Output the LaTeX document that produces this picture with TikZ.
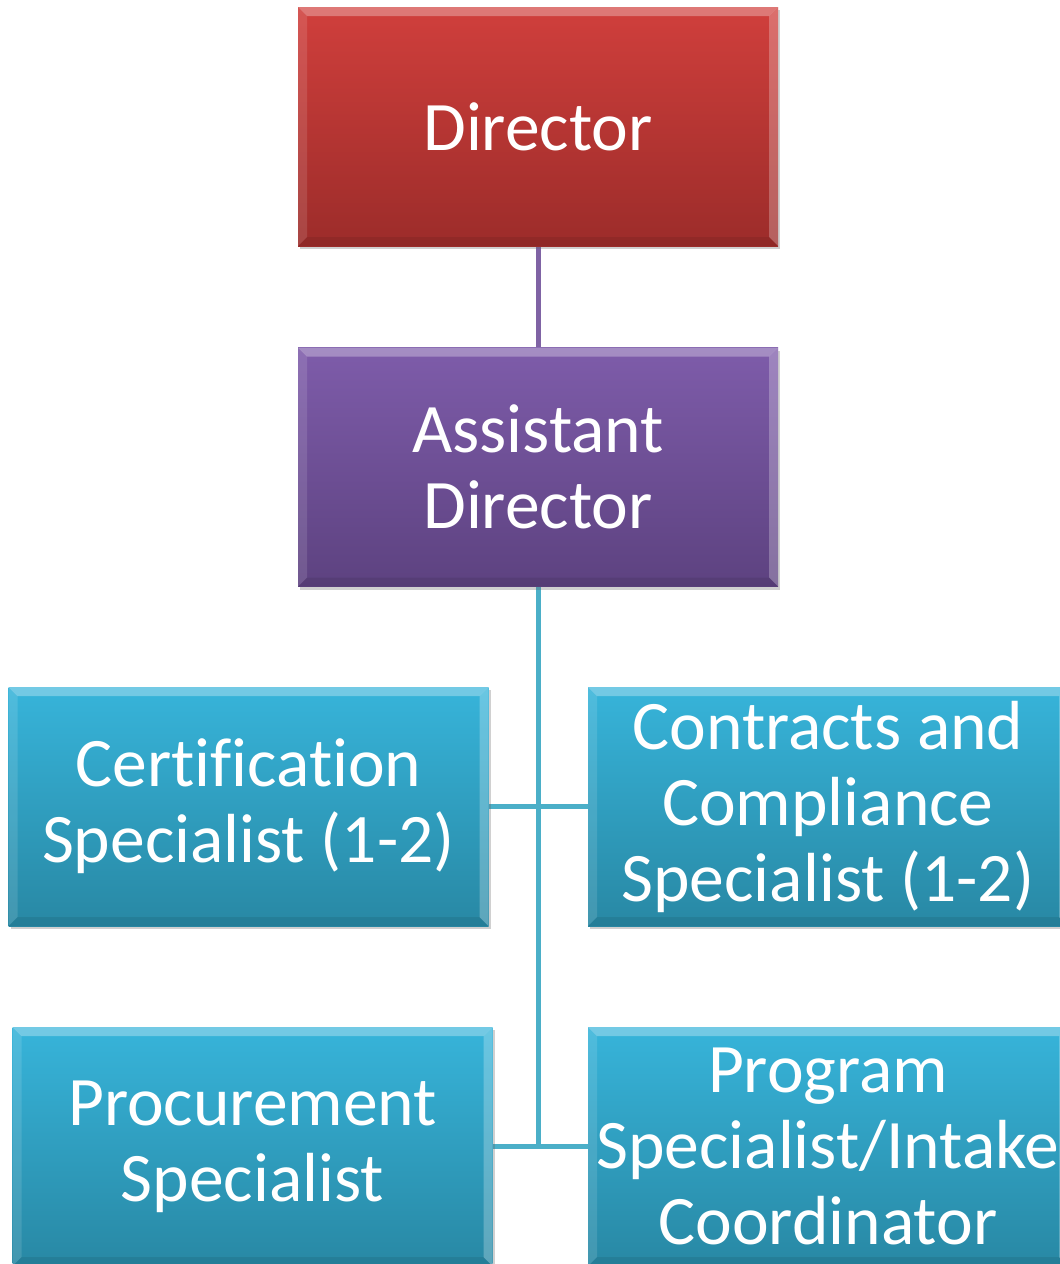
\documentclass[tikz,border=0pt]{standalone}
\usepackage{fontspec}
\setmainfont{Carlito}[Ligatures=NoCommon]
\usetikzlibrary{shadows,backgrounds}

\definecolor{redtop}{HTML}{D03F3C}
\definecolor{redbot}{HTML}{9C2C2A}
\definecolor{purtop}{HTML}{7E5CAA}
\definecolor{purbot}{HTML}{5D4280}
\definecolor{cyantop}{HTML}{37B4DA}
\definecolor{cyanbot}{HTML}{2888A4}
\definecolor{purline}{HTML}{7F63A4}
\definecolor{cyanline}{HTML}{4BAFC8}

\tikzset{
  orgbox/.style={
    rectangle, minimum width=480pt, minimum height=239pt, inner sep=0pt,
    text=white, align=center, font=\fontsize{69.5}{76}\selectfont,
    drop shadow={shadow xshift=2pt, shadow yshift=-3pt, opacity=.3, fill=black!60},
    path picture={
      % bevelled rim: light top and sides, dark bottom
      \fill[white,opacity=.3] (path picture bounding box.north west) -- (path picture bounding box.north east)
        -- ([xshift=-9pt,yshift=-9pt]path picture bounding box.north east)
        -- ([xshift=9pt,yshift=-9pt]path picture bounding box.north west) -- cycle;
      \fill[white,opacity=.25] (path picture bounding box.north east) -- (path picture bounding box.south east)
        -- ([xshift=-9pt,yshift=9pt]path picture bounding box.south east)
        -- ([xshift=-9pt,yshift=-9pt]path picture bounding box.north east) -- cycle;
      \fill[white,opacity=.12] (path picture bounding box.north west) -- (path picture bounding box.south west)
        -- ([xshift=9pt,yshift=9pt]path picture bounding box.south west)
        -- ([xshift=9pt,yshift=-9pt]path picture bounding box.north west) -- cycle;
      \fill[black,opacity=.08] (path picture bounding box.south west) -- (path picture bounding box.south east)
        -- ([xshift=-9pt,yshift=9pt]path picture bounding box.south east)
        -- ([xshift=9pt,yshift=9pt]path picture bounding box.south west) -- cycle;
    }
  },
  redbox/.style={orgbox, top color=redtop, bottom color=redbot},
  purbox/.style={orgbox, top color=purtop, bottom color=purbot},
  cyanbox/.style={orgbox, top color=cyantop, bottom color=cyanbot},
  purlink/.style={draw=purline, line width=5pt},
  cyanlink/.style={draw=cyanline, line width=5pt}
}

\begin{document}
\begin{tikzpicture}[x=1pt,y=-1pt]
  \useasboundingbox (0,0) rectangle (1060,1264);

  \node[redbox]  (dir)   at (538,126.5)  {Director};
  \node[purbox]  (asst)  at (538,467)    {Assistant\\Director};
  \node[cyanbox] (cert)  at (248.5,806.5) {Certification\\Specialist (1-2)};
  \node[cyanbox] (contr) at (828,806.5)  {Contracts and\\Compliance\\Specialist (1-2)};
  \node[cyanbox] (proc)  at (252.5,1146.5) {Procurement\\Specialist};
  \node[cyanbox] (prog)  at (828,1146.5) {Program\\Specialist/Intake\\Coordinator};

  \coordinate (trunk) at (asst.south |- proc.east);

  \begin{scope}[on background layer]
    \fill[white] (0,0) rectangle (1060,1264);
    \draw[purlink] (dir.south) -- (asst.north);
    \draw[cyanlink] (asst.south) -- (trunk);
    \draw[cyanlink] (cert.east) -- (contr.west);
    \draw[cyanlink] (proc.east) -- (prog.west);
  \end{scope}
\end{tikzpicture}
\end{document}
